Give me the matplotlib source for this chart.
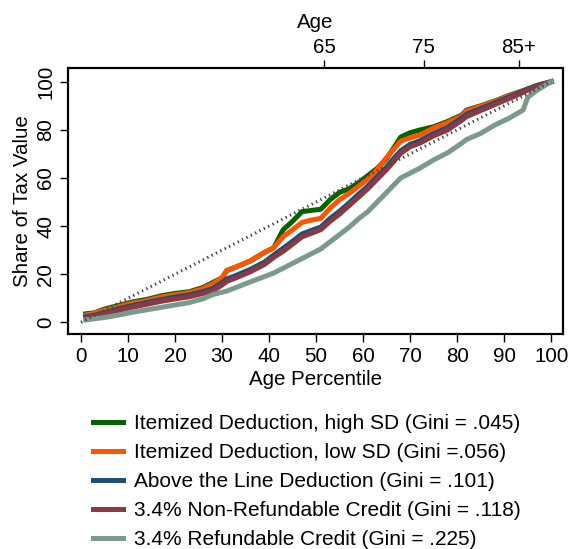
import matplotlib
matplotlib.use("Agg")
import matplotlib.pyplot as plt
from matplotlib.lines import Line2D

plt.rcParams['font.family'] = ['Liberation Sans', 'DejaVu Sans']

pct = [1, 3, 5, 8, 11, 14, 17, 20, 23, 26, 28, 30, 31, 33, 36, 39, 41, 43, 45, 47, 49,
       51, 53, 55, 57, 59, 61, 63, 65, 67, 68, 70, 72, 75, 78, 81, 82, 85, 88, 91, 94,
       95, 97, 100]

item_high = [3.5, 4, 5.5, 7, 8.5, 9.5, 11, 12, 12.7, 14.5, 16.5, 18.5, 21.5, 23, 25.5, 29, 31,
             38.5, 42, 46, 46.5, 47, 51, 54, 55.5, 58, 61, 64, 68, 74, 77, 78.8, 79.9, 81.3,
             83.5, 86.2, 88.2, 90, 92, 94.3, 96.3, 97, 98.5, 100]
item_low = [3, 3.8, 5, 6.5, 8, 9, 10.5, 11.5, 12.3, 14, 16, 18.5, 21.5, 23, 25.5, 29, 31,
            35.6, 38.5, 41.5, 42.5, 43.2, 47.5, 51, 53.5, 56.5, 59.5, 63.5, 68.5, 73, 75.3,
            76.7, 77.8, 80.8, 83, 85.8, 87.8, 89.8, 91.8, 94.1, 96.1, 96.8, 98.3, 100]
above_line = [2.3, 3, 4, 5.6, 7, 8.2, 9.4, 10.5, 11.4, 12.8, 14, 16.5, 18, 19.5, 22, 25, 28,
              30.8, 33.7, 36.7, 38.2, 39.6, 43.2, 46.2, 49.6, 53.2, 56.6, 60.6, 64.6, 69.2,
              71.3, 74, 75.4, 78.5, 81, 85, 86.5, 88.8, 91.2, 93.6, 96, 96.9, 98.3, 100]
nonref = [1.8, 2.5, 3.5, 5, 6.3, 7.5, 8.7, 9.7, 10.6, 12, 13, 15.5, 17, 18.5, 21, 24, 27,
          29.5, 32.5, 35.5, 37, 38.5, 42, 45, 48.5, 52, 55.5, 59.5, 63.5, 68, 70.2, 73, 74.4,
          77.5, 80, 84, 85.5, 88, 90.5, 93, 95.5, 96.5, 98, 100]
refund = [1, 1.5, 2, 3, 4.2, 5.2, 6.2, 7.2, 8.2, 9.8, 11.5, 12.5, 13, 14.5, 16.8, 19, 20.5,
          22.5, 24.5, 26.5, 28.5, 30.5, 33.5, 36.5, 39.5, 43, 46, 50, 54, 58, 60, 62, 64,
          67.5, 70.5, 74.5, 76, 78.5, 82, 84.8, 88.2, 93.5, 96.5, 100]

labels = ["Itemized Deduction, high SD (Gini = .045)",
          "Itemized Deduction, low SD (Gini =.056)",
          "Above the Line Deduction (Gini = .101)",
          "3.4% Non-Refundable Credit (Gini = .118)",
          "3.4% Refundable Credit (Gini = .225)"]
colors = ["#006400", "#ff5500", "#1f4e79", "#8b3a44", "#7b9a8c"]

eq_line = [0, 100]
age_tick_pos = [51.7, 72.9, 93.1]
age_tick_labels = ["65", "75", "85+"]
x_ticks = list(range(0, 101, 10))
y_ticks = [0, 20, 40, 60, 80, 100]

FS = 14.8

fig = plt.figure(figsize=(5.70, 5.49), dpi=100)
ax = fig.add_axes([68/570, 1-334/549, (563-68)/570, (334-68)/549])

series = [item_high, item_low, above_line, nonref, refund]
for s, c, l in zip(series, colors, labels):
    ax.plot(pct, s, color=c, lw=3.6, label=l, solid_joinstyle='round')
ax.plot(eq_line, eq_line, color='#444444', lw=2.2, linestyle=(0, (0.45, 1.15)),
        dash_capstyle='butt')

ax.set_xlim(-2.76, 102.5)
ax.set_ylim(-4.86, 105.7)
ax.set_xticks(x_ticks)
ax.set_yticks(y_ticks)
ax.tick_params(direction='out', length=6, width=1.0, labelsize=FS, pad=3)
for lab in ax.get_yticklabels():
    lab.set_rotation(90)
    lab.set_va('center')
for sp in ax.spines.values():
    sp.set_linewidth(1.5)
ax.set_xlabel("Age Percentile", fontsize=FS, labelpad=3.5)
ax.set_ylabel("Share of Tax Value", fontsize=FS, labelpad=3)

ax2 = ax.twiny()
ax2.set_xlim(ax.get_xlim())
ax2.set_xticks(age_tick_pos)
ax2.set_xticklabels(age_tick_labels)
ax2.tick_params(direction='out', length=6, width=1.0, labelsize=FS, pad=2)
ax2.set_xlabel("Age", fontsize=FS, labelpad=7)
for sp in ax2.spines.values():
    sp.set_linewidth(1.5)

handles = [Line2D([0], [0], color=c, lw=3.6) for c in colors]
fig.legend(handles, labels, loc='upper left', bbox_to_anchor=(93/570, 1-414/549),
           frameon=False, fontsize=15, handlelength=1.42, handletextpad=0.56,
           labelspacing=0.48, borderpad=0, borderaxespad=0)

fig.savefig("out.png", dpi=100)
